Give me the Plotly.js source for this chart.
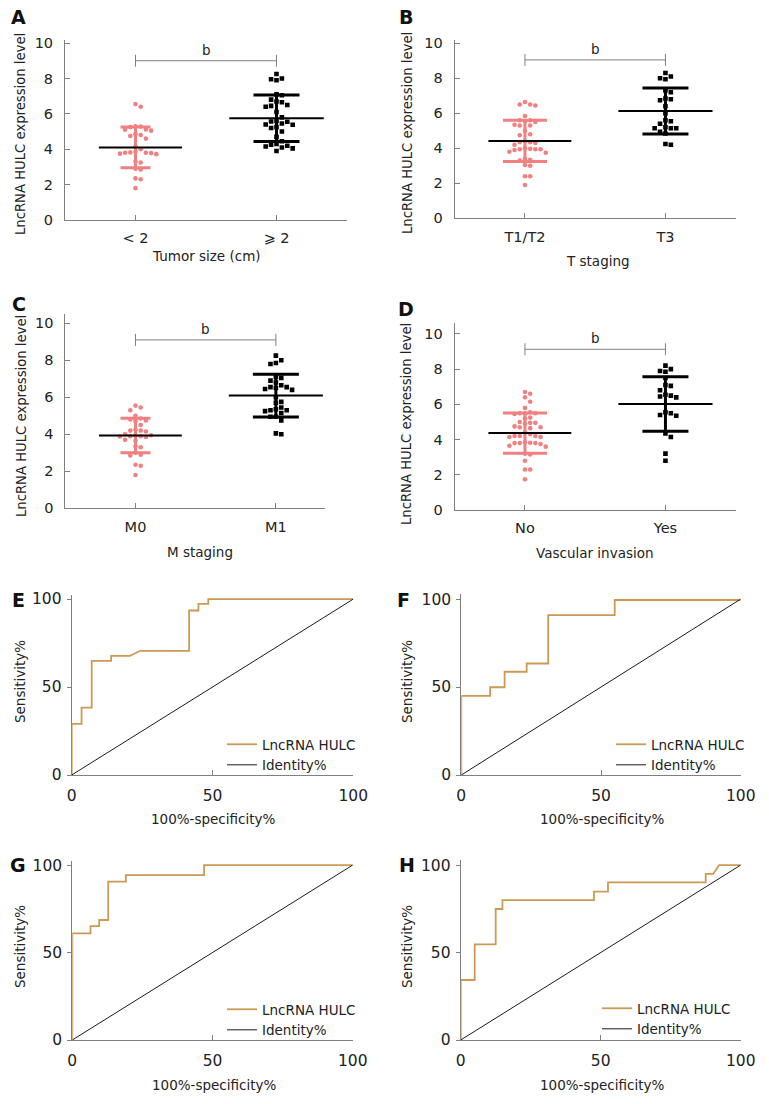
<!DOCTYPE html>
<html>
<head>
<meta charset="utf-8">
<script src="https://cdn.plot.ly/plotly-3.0.1.min.js"></script>
<style>html,body{margin:0;padding:0;background:#fff;}#chart{width:769px;height:1104px;}</style>
</head>
<body>
<div id="chart"></div>
<script>
// ---------------- DATA ----------------
const tickLabelsA = ['< 2', '\u2A7E 2'];
const tickLabelsB = ['T1/T2', 'T3'];
const tickLabelsC = ['M0', 'M1'];
const tickLabelsD = ['No', 'Yes'];

const aLow  = [6.55, 6.4, 5.3, 5.28, 5.25, 5.1, 5.05, 5.12, 4.85, 4.75, 4.8, 4.6, 4.15, 4.0, 3.85, 3.8, 3.82, 3.78, 3.75, 3.8, 3.72, 3.3, 3.25, 2.9, 2.85, 2.35, 2.3, 1.8];
const aHigh = [8.25, 8.0, 7.95, 7.9, 7.1, 7.05, 6.8, 6.7, 6.65, 6.5, 6.45, 6.4, 6.1, 5.8, 5.6, 5.57, 5.55, 5.45, 5.4, 5.38, 5.25, 5.2, 5.0, 4.7, 4.45, 4.3, 4.25, 4.2, 4.15, 4.1, 4.05, 3.9];
const aMean = [4.1, 5.75];
const aSD   = [1.15, 1.32];

const bLow  = [6.65, 6.5, 6.5, 6.45, 5.85, 5.6, 5.6, 5.55, 5.5, 5.35, 5.3, 5.3, 5.0, 4.8, 4.75, 4.4, 4.35, 4.35, 4.3, 4.2, 4.0, 3.95, 3.95, 3.95, 3.9, 3.97, 3.8, 3.75, 3.4, 3.35, 3.3, 3.05, 3.0, 2.4, 2.4, 1.9];
const bHigh = [8.3, 8.1, 8.0, 7.95, 7.3, 7.2, 6.85, 6.8, 6.75, 6.4, 6.0, 5.6, 5.55, 5.4, 5.2, 5.15, 5.15, 5.15, 4.95, 4.85, 4.25, 4.2];
const bMean = [4.42, 6.13];
const bSD   = [1.18, 1.31];

const cLow  = [5.55, 5.45, 5.3, 5.0, 4.85, 4.8, 4.75, 4.7, 4.5, 4.25, 4.2, 4.2, 4.15, 4.0, 3.95, 3.95, 3.9, 3.9, 3.88, 3.85, 3.7, 3.65, 3.35, 3.3, 3.0, 2.9, 2.85, 2.35, 2.3, 1.8];
const cHigh = [8.25, 8.0, 7.85, 7.8, 7.1, 7.05, 6.9, 6.8, 6.65, 6.55, 6.55, 6.5, 6.45, 6.4, 6.0, 5.75, 5.7, 5.45, 5.35, 5.3, 5.3, 5.25, 5.15, 4.95, 4.95, 4.75, 4.05, 4.0];
const cMean = [3.93, 6.09];
const cSD   = [0.93, 1.16];

const dLow  = [6.7, 6.6, 6.4, 6.15, 5.8, 5.55, 5.5, 5.5, 5.5, 5.45, 5.25, 5.2, 5.0, 4.95, 4.95, 4.9, 4.75, 4.7, 4.7, 4.65, 4.4, 4.3, 4.2, 4.2, 4.2, 4.15, 4.15, 3.85, 3.8, 3.8, 3.8, 3.75, 3.82, 3.65, 3.6, 3.2, 3.15, 2.8, 2.3, 2.3, 1.75];
const dHigh = [8.2, 8.0, 7.9, 7.85, 7.5, 7.1, 7.05, 6.8, 6.55, 6.45, 6.4, 6.5, 5.55, 5.5, 5.4, 5.35, 4.35, 4.15, 3.2, 2.8];
const dMean = [4.37, 6.02];
const dSD   = [1.14, 1.55];

const sigY = [9.0, 9.05, 9.1, 9.13];   // bracket level per panel
const sigText = 'b';

// ROC curves (100%-specificity%, sensitivity%)
const eX = [0, 0, 3.5, 3.5, 7.1, 7.1, 14, 14, 20.7, 24.3, 41.7, 41.7, 45, 45, 48.5, 48.5, 100];
const eY = [0, 29, 29, 38.3, 38.3, 64.9, 64.9, 67.7, 67.7, 70.6, 70.6, 93.5, 93.5, 97.2, 97.2, 100, 100];
const fX = [0, 0, 10.3, 10.3, 15.5, 15.5, 23.4, 23.4, 31.1, 31.1, 54.9, 54.9, 100];
const fY = [0, 45, 45, 49.9, 49.9, 58.7, 58.7, 63.4, 63.4, 90.9, 90.9, 99.5, 99.5];
const gX = [0, 0, 6.5, 6.5, 9.6, 9.6, 12.8, 12.8, 19.1, 19.1, 47, 47, 100];
const gY = [0, 61, 61, 65.1, 65.1, 68.6, 68.6, 90.5, 90.5, 94.3, 94.3, 100, 100];
const hX = [0, 0, 5, 5, 12.5, 12.5, 14.9, 14.9, 47.6, 47.6, 52.6, 52.6, 87.5, 87.5, 90.2, 92.3, 100];
const hY = [0, 34.3, 34.3, 54.7, 54.7, 74.9, 74.9, 80, 80, 84.8, 84.8, 90.1, 90.1, 95, 95, 100, 100];
const identityX = [0, 100];
const identityY = [0, 100];
const rocNames = ['LncRNA HULC', 'Identity%'];

const xTitles = ['Tumor size (cm)', 'T staging', 'M staging', 'Vascular invasion'];
const yTitleScatter = 'LncRNA HULC expression level';
const xTitleROC = '100%-specificity%';
const yTitleROC = 'Sensitivity%';
const panelLetters = ['A', 'B', 'C', 'D', 'E', 'F', 'G', 'H'];

// ---------------- LAYOUT GEOMETRY (pixels) ----------------
const W = 769, H = 1104;
const FONT = 'DejaVu Sans';
const PINK = '#F28080';
const BLACK = '#000000';
const ROC = '#CC9A55';
const AXC = '#808080';

const geo = [
  {xpx: [65, 347],     ypx: [39.5, 220],  xr: [-0.5, 1.5],  yr: [0, 10.2]},
  {xpx: [454.7, 735.7], ypx: [39.8, 218.3], xr: [-0.5, 1.5],  yr: [0, 10.2]},
  {xpx: [65.3, 325],   ypx: [314, 508.3], xr: [-0.5, 1.35], yr: [0, 10.5]},
  {xpx: [454.7, 735.7], ypx: [323.4, 510], xr: [-0.5, 1.5],  yr: [0, 10.6]},
  {xpx: [71.7, 353.3], ypx: [595, 775],   xr: [0, 100], yr: [0, 102.3]},
  {xpx: [461.3, 740.7], ypx: [594, 775],  xr: [0, 100], yr: [0, 102.9]},
  {xpx: [72.3, 352.7], ypx: [860.7, 1040], xr: [0, 100], yr: [0, 102.5]},
  {xpx: [460.7, 740.7], ypx: [860, 1040], xr: [0, 100], yr: [0, 102.9]}
];
const pinkWhisker = [15, 22, 15, 22];
const letterPos = [[18.5, 17], [405.5, 16.5], [18.5, 303.5], [406, 308.5], [18, 600], [403, 600], [18, 865], [407, 865]];
const xTitlePos = [[206, 256], [598, 261.5], [200, 551.5], [595, 553], [213, 819], [602, 819], [214, 1085], [602, 1085]];
const yTitlePos = [[21, 134], [407, 133], [21, 416], [407, 424], [20, 682], [407, 682], [20, 947], [407, 947]];
const legendPos = [[222, 729], [611, 729], [222, 994], [597, 993]];

// ---------------- HELPERS ----------------
function axName(i, t) { return i === 0 ? t : t + (i + 1); }
function axRef(i, t) { return i === 0 ? t : t + (i + 1); }

function swarm(values, center, xppu, yppu, d) {
  const order = values.map((v, i) => [v, i]).sort((a, b) => b[0] - a[0]);
  const placed = [];
  const xs = new Array(values.length);
  for (const [v, i] of order) {
    const ypx = v * yppu;
    let off = 0;
    for (let step = 0; step < 200; step++) {
      const cand = step === 0 ? 0 : (step % 2 ? Math.ceil(step / 2) : -step / 2) * d;
      if (placed.every(p => Math.hypot(p.x - cand, p.y - ypx) >= d)) { off = cand; break; }
    }
    placed.push({x: off, y: ypx});
    xs[i] = center + off / xppu;
  }
  return xs;
}

const traces = [];
const shapes = [];
const annotations = [];
const layout = {
  width: W, height: H,
  margin: {l: 0, r: 0, t: 0, b: 0},
  paper_bgcolor: '#fff', plot_bgcolor: '#fff',
  font: {family: FONT, size: 13.5, color: '#222'},
  showlegend: true
};

const scatterSets = [
  {low: aLow, high: aHigh, mean: aMean, sd: aSD, ticks: tickLabelsA},
  {low: bLow, high: bHigh, mean: bMean, sd: bSD, ticks: tickLabelsB},
  {low: cLow, high: cHigh, mean: cMean, sd: cSD, ticks: tickLabelsC},
  {low: dLow, high: dHigh, mean: dMean, sd: dSD, ticks: tickLabelsD}
];
const rocSets = [[eX, eY], [fX, fY], [gX, gY], [hX, hY]];

geo.forEach((g, i) => {
  const xa = axName(i, 'xaxis'), ya = axName(i, 'yaxis');
  const xr = axRef(i, 'x'), yr = axRef(i, 'y');
  const isROC = i >= 4;
  layout[xa] = {
    domain: [g.xpx[0] / W, g.xpx[1] / W], range: g.xr, anchor: yr,
    showline: true, linecolor: AXC, linewidth: 1, showgrid: false, zeroline: false,
    ticks: 'inside', ticklen: 5, tickcolor: AXC, tickwidth: 1,
    tickfont: {family: FONT, size: isROC ? 15.5 : 14.5, color: '#222'},
    layer: 'below traces', fixedrange: true
  };
  layout[ya] = {
    domain: [1 - g.ypx[1] / H, 1 - g.ypx[0] / H], range: g.yr, anchor: xr,
    showline: true, linecolor: AXC, linewidth: 1, showgrid: false, zeroline: false,
    ticks: isROC ? 'outside' : 'inside', ticklen: isROC ? 4 : 5, tickcolor: AXC, tickwidth: 1,
    tickfont: {family: FONT, size: isROC ? 15.5 : 14.5, color: '#222'},
    layer: 'below traces', fixedrange: true
  };
  if (!isROC) {
    const s = scatterSets[i];
    layout[xa].tickmode = 'array'; layout[xa].tickvals = [0, 1]; layout[xa].ticktext = s.ticks;
    layout[xa].ticklabelstandoff = 5;
    layout[ya].tickmode = 'array'; layout[ya].tickvals = [0, 2, 4, 6, 8, 10];
    layout[ya].ticklabelstandoff = 8;
    const xppu = (g.xpx[1] - g.xpx[0]) / (g.xr[1] - g.xr[0]);
    const yppu = (g.ypx[1] - g.ypx[0]) / (g.yr[1] - g.yr[0]);
    // dots
    traces.push({type: 'scatter', mode: 'markers', xaxis: xr, yaxis: yr, showlegend: false, hoverinfo: 'y',
      x: swarm(s.low, 0, xppu, yppu, 5.2), y: s.low,
      marker: {symbol: 'circle', size: 4.6, color: PINK, line: {width: 0}}});
    traces.push({type: 'scatter', mode: 'markers', xaxis: xr, yaxis: yr, showlegend: false, hoverinfo: 'y',
      x: swarm(s.high, 1, xppu, yppu, 5.4), y: s.high,
      marker: {symbol: 'square', size: 4.6, color: BLACK, line: {width: 0}}});
    // SD error bars
    traces.push({type: 'scatter', mode: 'markers', xaxis: xr, yaxis: yr, showlegend: false, hoverinfo: 'skip',
      x: [0], y: [s.mean[0]], marker: {size: 1, color: 'rgba(0,0,0,0)'},
      error_y: {type: 'data', array: [s.sd[0]], visible: true, color: PINK, thickness: 3, width: pinkWhisker[i]}});
    traces.push({type: 'scatter', mode: 'markers', xaxis: xr, yaxis: yr, showlegend: false, hoverinfo: 'skip',
      x: [1], y: [s.mean[1]], marker: {size: 1, color: 'rgba(0,0,0,0)'},
      error_y: {type: 'data', array: [s.sd[1]], visible: true, color: BLACK, thickness: 3, width: 23}});
    // mean lines
    traces.push({type: 'scatter', mode: 'lines', xaxis: xr, yaxis: yr, showlegend: false, hoverinfo: 'skip',
      x: [0 - 0.26, 0 + 0.33], y: [s.mean[0], s.mean[0]], line: {color: BLACK, width: 2}});
    traces.push({type: 'scatter', mode: 'lines', xaxis: xr, yaxis: yr, showlegend: false, hoverinfo: 'skip',
      x: [1 - 0.335, 1 + 0.335], y: [s.mean[1], s.mean[1]], line: {color: BLACK, width: 2}});
    // significance bracket
    const by = sigY[i], dy = 6 / yppu;
    shapes.push({type: 'line', xref: xr, yref: yr, x0: 0, x1: 1, y0: by, y1: by, line: {color: AXC, width: 1}});
    shapes.push({type: 'line', xref: xr, yref: yr, x0: 0, x1: 0, y0: by - dy, y1: by + dy, line: {color: AXC, width: 1}});
    shapes.push({type: 'line', xref: xr, yref: yr, x0: 1, x1: 1, y0: by - dy, y1: by + dy, line: {color: AXC, width: 1}});
    annotations.push({xref: xr, yref: yr, x: 0.5, y: by, text: sigText, showarrow: false, yshift: 11,
      xanchor: 'center', yanchor: 'middle', font: {family: FONT, size: 13.5, color: '#222'}});
    annotations.push({xref: 'paper', yref: 'paper', x: xTitlePos[i][0] / W, y: 1 - xTitlePos[i][1] / H,
      text: xTitles[i], showarrow: false, xanchor: 'center', yanchor: 'middle', font: {family: FONT, size: 13.5, color: '#222'}});
    annotations.push({xref: 'paper', yref: 'paper', x: yTitlePos[i][0] / W, y: 1 - yTitlePos[i][1] / H,
      text: yTitleScatter, textangle: -90, showarrow: false, xanchor: 'center', yanchor: 'middle', font: {family: FONT, size: 13.2, color: '#222'}});
  } else {
    const k = i - 4;
    layout[xa].tickmode = 'array'; layout[xa].tickvals = [0, 50, 100];
    layout[xa].ticklabelstandoff = 6;
    layout[ya].tickmode = 'array'; layout[ya].tickvals = [0, 50, 100];
    layout[ya].ticklabelstandoff = 2;
    const lg = k === 0 ? 'legend' : 'legend' + (k + 1);
    layout[lg] = {x: legendPos[k][0] / W, y: 1 - legendPos[k][1] / H, xanchor: 'left', yanchor: 'top',
      bgcolor: 'rgba(0,0,0,0)', borderwidth: 0, font: {family: FONT, size: 13.5, color: '#222'},
      tracegroupgap: 0, itemclick: false, itemdoubleclick: false};
    traces.push({type: 'scatter', mode: 'lines', xaxis: xr, yaxis: yr, legend: lg, name: rocNames[0],
      x: rocSets[k][0], y: rocSets[k][1], line: {color: ROC, width: 1.8}, showlegend: true});
    traces.push({type: 'scatter', mode: 'lines', xaxis: xr, yaxis: yr, legend: lg, name: rocNames[1],
      x: identityX, y: identityY, line: {color: '#1a1a1a', width: 1}, showlegend: true});
    annotations.push({xref: 'paper', yref: 'paper', x: xTitlePos[i][0] / W, y: 1 - xTitlePos[i][1] / H,
      text: xTitleROC, showarrow: false, xanchor: 'center', yanchor: 'middle', font: {family: FONT, size: 13.5, color: '#222'}});
    annotations.push({xref: 'paper', yref: 'paper', x: yTitlePos[i][0] / W, y: 1 - yTitlePos[i][1] / H,
      text: yTitleROC, textangle: -90, showarrow: false, xanchor: 'center', yanchor: 'middle', font: {family: FONT, size: 13.5, color: '#222'}});
  }
  annotations.push({xref: 'paper', yref: 'paper', x: letterPos[i][0] / W, y: 1 - letterPos[i][1] / H,
    text: '<b>' + panelLetters[i] + '</b>', showarrow: false, xanchor: 'center', yanchor: 'middle',
    font: {family: FONT, size: 19, color: '#111'}});
});

layout.shapes = shapes;
layout.annotations = annotations;

Plotly.newPlot('chart', traces, layout, {displayModeBar: false, staticPlot: true});
</script>
</body>
</html>
